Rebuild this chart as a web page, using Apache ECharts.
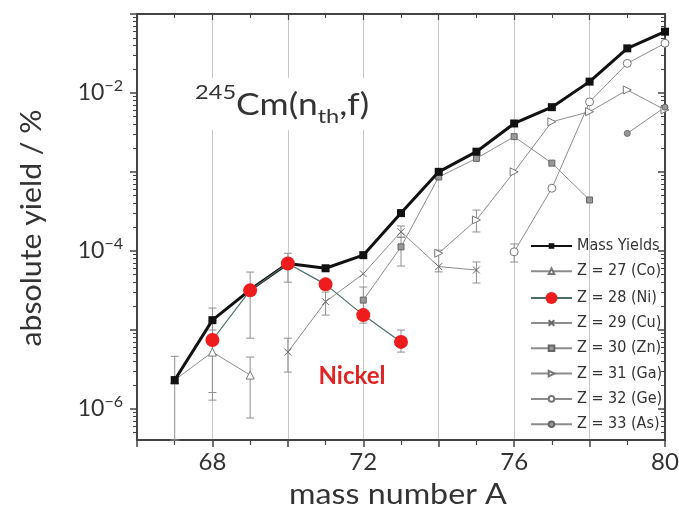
<!DOCTYPE html>
<html>
<head>
<meta charset="utf-8">
<script src="https://cdn.jsdelivr.net/npm/echarts@6/dist/echarts.min.js"></script>
<style>html,body{margin:0;padding:0;background:#fff;}#c{width:679px;height:517px;}</style>
</head>
<body>
<div id="c"></div>
<script>
// ---- data ----
const massX = [67, 68, 69, 70, 71, 72, 73, 74, 75, 76, 77, 78, 79, 80];
const massY = [2.3e-6, 1.32e-5, 3.2e-5, 6.9e-5, 6.0e-5, 8.8e-5, 3.0e-4, 1.0e-3, 1.8e-3, 4.1e-3, 6.6e-3, 1.39e-2, 3.67e-2, 5.97e-2];
const coX = [67, 68, 69];
const coY = [2.3e-6, 5.2e-6, 2.66e-6];
const niX = [68, 69, 70, 71, 72, 73];
const niY = [7.4e-6, 3.15e-5, 6.9e-5, 3.75e-5, 1.53e-5, 7.0e-6];
const cuX = [70, 71, 72, 73, 74, 75];
const cuY = [5.2e-6, 2.26e-5, 5.1e-5, 1.74e-4, 6.3e-5, 5.7e-5];
const znX = [72, 73, 74, 75, 76, 77, 78];
const znY = [2.37e-5, 1.12e-4, 8.6e-4, 1.48e-3, 2.79e-3, 1.29e-3, 4.4e-4];
const gaX = [74, 75, 76, 77, 78, 79, 80];
const gaY = [9.3e-5, 2.46e-4, 1.0e-3, 4.31e-3, 5.78e-3, 1.09e-2, 6.1e-3];
const geX = [76, 77, 78, 79, 80];
const geY = [9.7e-5, 6.2e-4, 7.7e-3, 2.37e-2, 4.26e-2];
const asX = [79, 80];
const asY = [3.07e-3, 6.6e-3];
// error bars: x, low, high
const errX    = [67,     68,      68,      68,      69,      69,      70,     70,     71,      72,      73,     73,      73,      74,      75,     75,      76];
const errLow  = [4e-7,   9.9e-6,  1.6e-6,  1.28e-6, 7.8e-6,  7.6e-7,  4.0e-5, 2.9e-6, 1.53e-5, 1.21e-5, 5.2e-6, 6.4e-5,  1.47e-4, 5.4e-5,  3.9e-5, 1.73e-4, 7.2e-5];
const errHigh = [4.6e-6, 1.88e-5, 1.3e-5,  8.0e-6,  5.37e-5, 4.5e-6,  9.3e-5, 7.8e-6, 3.0e-5,  3.47e-5, 9.9e-6, 1.49e-4, 2.06e-4, 1.02e-4, 7.2e-5, 3.28e-4, 1.22e-4];
const xLabels = [68, 72, 76, 80];
const yLabelExps = [-2, -4, -6];
const seriesNames = ['Mass Yields', 'Z = 27 (Co)', 'Z = 28 (Ni)', 'Z = 29 (Cu)', 'Z = 30 (Zn)', 'Z = 31 (Ga)', 'Z = 32 (Ge)', 'Z = 33 (As)'];

// ---- helpers ----
const pairs = (xs, ys) => xs.map((x, i) => [x, ys[i]]);
const Y_MIN = 4e-7, Y_MAX = 0.1;
const minorVals = [];
for (let e = -7; e <= -1; e++) for (let m = 2; m <= 9; m++) { const v = m * Math.pow(10, e); if (v > Y_MIN && v < Y_MAX) minorVals.push(v); }
const majorVals = [];
for (let e = -6; e <= -1; e++) majorVals.push(Math.pow(10, e));

const AX = '#444';
const FONT = 'Lato, "Open Sans", sans-serif';
const LFONT = '"DejaVu Sans Condensed", "Liberation Sans", sans-serif';
const thin = '#8c8c8c';

function yAxisBase(extra) {
  return Object.assign({
    type: 'log', logBase: 10, min: Y_MIN, max: Y_MAX, gridIndex: 0,
    splitLine: { show: false }, minorTick: { show: false }, minorSplitLine: { show: false }
  }, extra);
}
function legendBlock(names, top, h) {
  return {
    data: names, orient: 'vertical', left: 530, top: top, padding: 0,
    itemWidth: 41, itemHeight: h, itemGap: 9.3,
    textStyle: { fontFamily: LFONT, fontSize: 16, color: '#333', lineHeight: 16, width: 100, overflow: 'none' },
    selectedMode: false
  };
}

const chart = echarts.init(document.getElementById('c'), null, { renderer: 'canvas' });
chart.setOption({
  animation: false,
  backgroundColor: '#fff',
  grid: { left: 137, right: 14, top: 14, bottom: 77, containLabel: false, outerBoundsMode: 'none' },
  xAxis: [
    {
      type: 'value', min: 66, max: 80, interval: 2, position: 'bottom',
      axisLine: { show: true, lineStyle: { color: AX, width: 2 } },
      axisTick: { show: true, inside: false, length: 7, lineStyle: { color: AX, width: 1.5 } },
      minorTick: { show: true, splitNumber: 2, length: 5, lineStyle: { color: AX, width: 1.2 } },
      splitLine: { show: true, lineStyle: { color: '#c8c8c8', width: 1 } },
      axisLabel: {
        margin: 10, color: '#333', fontFamily: FONT, fontSize: 24,
        formatter: v => xLabels.indexOf(v) >= 0 ? String(v) : ''
      }
    },
    {
      type: 'value', min: 66, max: 80, interval: 2, position: 'top',
      axisLine: { show: true, lineStyle: { color: AX, width: 2 } },
      axisTick: { show: true, inside: true, length: 6, lineStyle: { color: AX, width: 1.2 } },
      minorTick: { show: true, splitNumber: 2, length: 4, lineStyle: { color: AX, width: 1 } },
      splitLine: { show: false }, axisLabel: { show: false }
    }
  ],
  yAxis: [
    yAxisBase({
      position: 'left',
      axisLine: { show: true, lineStyle: { color: AX, width: 2 } },
      axisTick: { show: true, inside: false, length: 7, customValues: majorVals, lineStyle: { color: AX, width: 1.5 } },
      axisLabel: {
        margin: 14, fontFamily: FONT, color: '#333',
        customValues: yLabelExps.map(e => Math.pow(10, e)),
        formatter: v => { const e = Math.round(Math.log10(v)); return '{b|10}{s|\u2212' + (-e) + '}'; },
        rich: {
          b: { fontFamily: FONT, fontSize: 23, color: '#333', lineHeight: 30 },
          s: { fontFamily: FONT, fontSize: 16, color: '#333', lineHeight: 14, verticalAlign: 'top' }
        }
      }
    }),
    yAxisBase({
      position: 'left', offset: 0,
      axisLine: { show: false },
      axisTick: { show: true, inside: false, length: 4, customValues: minorVals, lineStyle: { color: AX, width: 1 } },
      axisLabel: { show: false }
    }),
    yAxisBase({
      position: 'right', offset: 0,
      axisLine: { show: true, lineStyle: { color: AX, width: 2 } },
      axisTick: { show: true, inside: true, length: 7, customValues: majorVals, lineStyle: { color: AX, width: 1.5 } },
      axisLabel: { show: false }
    }),
    yAxisBase({
      position: 'right', offset: 0,
      axisLine: { show: false },
      axisTick: { show: true, inside: true, length: 4, customValues: minorVals, lineStyle: { color: AX, width: 1 } },
      axisLabel: { show: false }
    })
  ],
  legend: [
    legendBlock(seriesNames.slice(0, 2), 238, 7),
    legendBlock(seriesNames.slice(2, 3), 290, 15),
    legendBlock(seriesNames.slice(3), 315, 7)
  ],
  series: [
    {
      type: 'custom', name: 'err', z: 1, silent: true,
      data: errX.map((x, i) => [x, errLow[i], errHigh[i]]),
      renderItem: function (params, api) {
        const x = api.value(0);
        const p1 = api.coord([x, api.value(1)]);
        const p2 = api.coord([x, api.value(2)]);
        const hw = 4;
        const st = { stroke: '#8f8f8f', lineWidth: 1 };
        return {
          type: 'group', children: [
            { type: 'line', shape: { x1: p1[0], y1: p1[1], x2: p2[0], y2: p2[1] }, style: st },
            { type: 'line', shape: { x1: p1[0] - hw, y1: p1[1], x2: p1[0] + hw, y2: p1[1] }, style: st },
            { type: 'line', shape: { x1: p2[0] - hw, y1: p2[1], x2: p2[0] + hw, y2: p2[1] }, style: st }
          ]
        };
      },
      encode: { x: 0, y: [1, 2] }
    },
    {
      name: 'Z = 27 (Co)', type: 'line', z: 3, data: pairs(coX, coY),
      symbol: 'triangle', symbolSize: 8,
      lineStyle: { color: thin, width: 1 }, itemStyle: { color: '#fff', borderColor: '#777', borderWidth: 1 }
    },
    {
      name: 'Z = 29 (Cu)', type: 'line', z: 3, data: pairs(cuX, cuY),
      symbol: 'path://M0,0L10,10M10,0L0,10', symbolSize: 7,
      lineStyle: { color: thin, width: 1 }, itemStyle: { color: 'none', borderColor: '#666', borderWidth: 1 }
    },
    {
      name: 'Z = 30 (Zn)', type: 'line', z: 3, data: pairs(znX, znY),
      symbol: 'rect', symbolSize: 6,
      lineStyle: { color: thin, width: 1 }, itemStyle: { color: '#999', borderColor: '#666', borderWidth: 1 }
    },
    {
      name: 'Z = 31 (Ga)', type: 'line', z: 3, data: pairs(gaX, gaY),
      symbol: 'triangle', symbolRotate: -90, symbolSize: 8,
      lineStyle: { color: thin, width: 1 }, itemStyle: { color: '#fff', borderColor: '#777', borderWidth: 1 }
    },
    {
      name: 'Z = 32 (Ge)', type: 'line', z: 3, data: pairs(geX, geY),
      symbol: 'circle', symbolSize: 8,
      lineStyle: { color: thin, width: 1 }, itemStyle: { color: '#fff', borderColor: '#777', borderWidth: 1 }
    },
    {
      name: 'Z = 33 (As)', type: 'line', z: 3, data: pairs(asX, asY),
      symbol: 'circle', symbolSize: 6,
      lineStyle: { color: thin, width: 1 }, itemStyle: { color: '#999', borderColor: '#666', borderWidth: 1 }
    },
    {
      name: 'Mass Yields', type: 'line', z: 4, data: pairs(massX, massY),
      symbol: 'rect', symbolSize: 8,
      lineStyle: { color: '#111', width: 3 }, itemStyle: { color: '#111' }
    },
    {
      name: 'Z = 28 (Ni)', type: 'line', z: 5, data: pairs(niX, niY),
      symbol: 'circle', symbolSize: 14,
      lineStyle: { color: '#4e6b6b', width: 1.2 }, itemStyle: { color: '#ee1c1c', borderWidth: 0 }
    }
  ],
  graphic: [
    { type: 'rect', z: 50, shape: { x: 186, y: 78, width: 196, height: 52 }, style: { fill: '#fff' } },
    {
      type: 'text', z: 51, x: 195, y: 105, scaleX: 1.18,
      style: {
        text: '{sup|245}{m|Cm(n}{sub|th}{m|,f)}',
        verticalAlign: 'middle', align: 'left',
        rich: {
          sup: { fontFamily: FONT, fontSize: 20, fill: '#333', lineHeight: 20, verticalAlign: 'top' },
          m: { fontFamily: FONT, fontSize: 30, fill: '#333', lineHeight: 44 },
          sub: { fontFamily: FONT, fontSize: 20, fill: '#333', lineHeight: 24, verticalAlign: 'bottom' }
        }
      }
    },
    {
      type: 'text', z: 51, x: 352, y: 376,
      style: { text: 'Nickel', fontFamily: FONT, fontSize: 24, fontWeight: 'bold', fill: '#e02424', align: 'center', verticalAlign: 'middle' }
    },
    {
      type: 'text', z: 51, x: 32, y: 228, rotation: Math.PI / 2, scaleX: 1.08,
      style: { text: 'absolute yield / %', fontFamily: FONT, fontSize: 28, fill: '#333', align: 'center', verticalAlign: 'middle' }
    },
    {
      type: 'text', z: 51, x: 398, y: 495, scaleX: 1.15,
      style: { text: 'mass number A', fontFamily: FONT, fontSize: 28, fill: '#333', align: 'center', verticalAlign: 'middle' }
    }
  ]
});
</script>
</body>
</html>
